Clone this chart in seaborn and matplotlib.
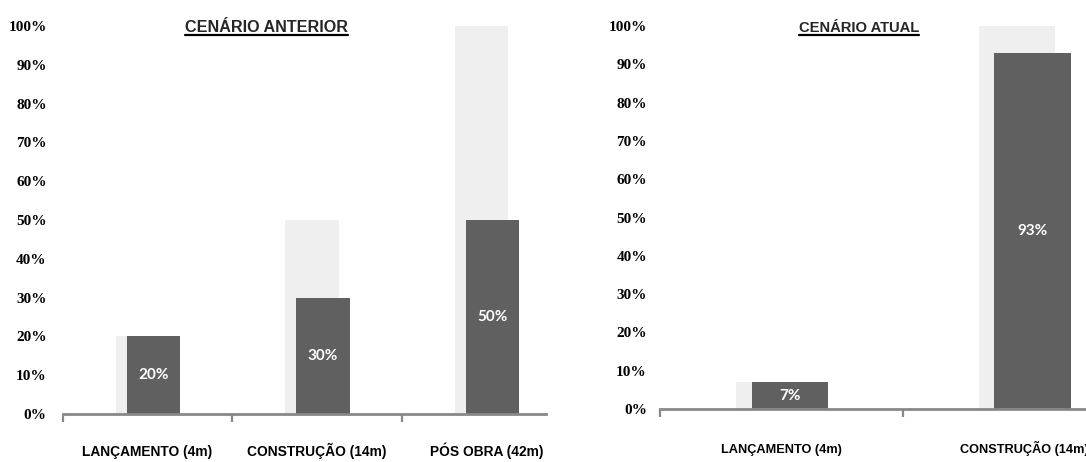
import matplotlib
matplotlib.use("Agg")
import matplotlib.pyplot as plt
from matplotlib.lines import Line2D
import seaborn as sns

# Share of sales per project phase, previous vs current scenario
left_categories = ["LANÇAMENTO (4m)", "CONSTRUÇÃO (14m)", "PÓS OBRA (42m)"]
left_reference = [20, 50, 100]
left_values = [20, 30, 50]

right_categories = ["LANÇAMENTO (4m)", "CONSTRUÇÃO (14m)"]
right_reference = [7, 100]
right_values = [7, 93]

y_ticks = [0, 10, 20, 30, 40, 50, 60, 70, 80, 90, 100]
y_tick_labels = [f"{t}%" for t in y_ticks]

left_title = "CENÁRIO ANTERIOR"
right_title = "CENÁRIO ATUAL"

LIGHT = "#efefef"
DARK = "#606060"
AXIS = "#888888"

sns.set_style("white")
SANS = ["Liberation Sans", "DejaVu Sans"]
SERIF = ["Liberation Serif", "DejaVu Serif"]
LABEL = ["Lato", "DejaVu Sans"]
plt.rcParams["font.family"] = SANS

fig = plt.figure(figsize=(10.86, 4.62), dpi=100)
ax_l = fig.add_axes([0.0577, 0.1039, 0.4448, 0.8398])
ax_r = fig.add_axes([0.6077, 0.1147, 0.4470, 0.8290])


def draw_panel(ax, cats, reference, values, xmax, xlab_size, xlab_pad, ylab_pad, boundaries):
    sns.barplot(x=cats, y=reference, order=cats, color=LIGHT, saturation=1,
                width=0.315, errorbar=None, linewidth=0, ax=ax)
    sns.barplot(x=cats, y=values, order=cats, color=DARK, saturation=1,
                width=0.315, errorbar=None, linewidth=0, ax=ax)
    back, front = ax.containers[0], ax.containers[1]
    for p in back:
        p.set_x(p.get_x() - 0.03)
    for p in front:
        p.set_x(p.get_x() + 0.035)
    ax.bar_label(front, labels=[f"{v}%" for v in values], label_type="center",
                 color="white", fontsize=11, fontweight="bold", family=LABEL)

    ax.set_xlim(-0.5, xmax)
    ax.set_ylim(0, 100)
    ax.set_yticks(y_ticks)
    ax.set_yticklabels(y_tick_labels, family=SERIF, fontweight="bold", fontsize=11)
    ax.tick_params(axis="y", length=0, pad=ylab_pad, colors="black")

    ax.set_xticks(range(len(cats)))
    ax.set_xticklabels(cats, fontweight="bold", fontsize=xlab_size)
    for lbl in ax.get_xticklabels():
        lbl.set_verticalalignment("baseline")
    ax.set_xticks(boundaries, minor=True)
    ax.tick_params(axis="x", which="major", length=0, pad=xlab_pad, labelcolor="black")
    ax.tick_params(axis="x", which="minor", bottom=True, length=6, width=1.6,
                   color=AXIS, direction="out")
    ax.set_xlabel("")
    ax.set_ylabel("")

    for side in ("top", "right", "left"):
        ax.spines[side].set_visible(False)
    ax.spines["bottom"].set_color(AXIS)
    ax.spines["bottom"].set_linewidth(2)
    ax.grid(False)


draw_panel(ax_l, left_categories, left_reference, left_values, 2.35, 9.9, 30.2, 11.5, [-0.5, 0.5, 1.5])
draw_panel(ax_r, right_categories, right_reference, right_values, 1.5, 9.2, 31.7, 9.5, [-0.5, 0.5])

# Underlined panel titles
titles = [
    fig.text(0.245, 0.9307, left_title, ha="center", va="baseline", fontsize=11.6, fontweight="bold"),
    fig.text(0.791, 0.9307, right_title, ha="center", va="baseline", fontsize=10.6, fontweight="bold"),
]
fig.canvas.draw()
W, H = fig.bbox.width, fig.bbox.height
for t in titles:
    bb = t.get_window_extent()
    y = (bb.y0 + 0.5) / H
    fig.add_artist(Line2D([bb.x0 / W, bb.x1 / W], [y, y], color="black", linewidth=1.6))

fig.savefig("out.png", dpi=100)
